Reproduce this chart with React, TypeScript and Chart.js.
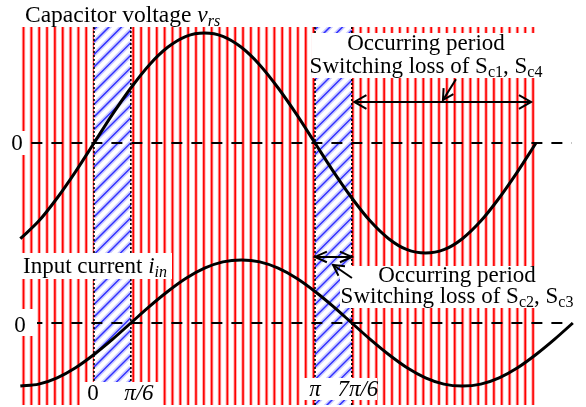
import React, { useEffect, useRef } from 'react';
import { Chart, registerables } from 'chart.js';

Chart.register(...registerables);

// ---- data (angles in degrees) ----
const angleDeg = [-60, -45, -30, -15, 0, 15, 30, 45, 60, 75, 90, 105, 120, 135, 150, 165, 180, 195, 210, 225, 240, 255, 270, 285, 300, 315, 330, 345, 360, 375, 390];
const voltageValues = [-0.87, -0.71, -0.5, -0.26, 0, 0.26, 0.5, 0.71, 0.87, 0.97, 1, 0.97, 0.87, 0.71, 0.5, 0.26, 0, -0.26, -0.5, -0.71, -0.87, -0.97, -1, -0.97, -0.87, -0.71, -0.5, -0.26, 0];
const currentValues = [-1, -0.97, -0.87, -0.71, -0.5, -0.26, 0, 0.26, 0.5, 0.71, 0.87, 0.97, 1, 0.97, 0.87, 0.71, 0.5, 0.26, 0, -0.26, -0.5, -0.71, -0.87, -0.97, -1, -0.97, -0.87, -0.71, -0.5, -0.26, 0];
const hatchStart = [0, 180];
const hatchEnd = [30, 210];
const tickLabels = ['0', 'π/6', 'π', '7π/6'];
const tickAngles = [0, 30, 180, 210];
const zeroLineFrom = -51;
const zeroLineTo = 389;
const lossArrow1 = [212, 356]; // Sc1, Sc4 occurring period (deg)
const lossArrow2 = [180, 210]; // Sc2, Sc3 occurring period (deg)

const FONT = '"Liberation Serif", "Times New Roman", serif';

type Seg = { t: string; it?: boolean; sub?: boolean };

function drawRich(ctx: CanvasRenderingContext2D, segs: Seg[], x: number, y: number, align: 'left' | 'center', size = 23) {
  const subSize = 16;
  const fontOf = (s: Seg) => `${s.it ? 'italic ' : ''}${s.sub ? subSize : size}px ${FONT}`;
  let total = 0;
  const widths = segs.map((s) => {
    ctx.font = fontOf(s);
    const w = ctx.measureText(s.t).width;
    total += w;
    return w;
  });
  let cx = align === 'center' ? x - total / 2 : x;
  ctx.fillStyle = '#000';
  ctx.textAlign = 'left';
  ctx.textBaseline = 'alphabetic';
  segs.forEach((s, i) => {
    ctx.font = fontOf(s);
    ctx.fillText(s.t, cx, y + (s.sub ? 4 : 0));
    cx += widths[i];
  });
}

function arrowHead(ctx: CanvasRenderingContext2D, tipX: number, tipY: number, fromX: number, fromY: number, len: number, ang: number) {
  const a = Math.atan2(fromY - tipY, fromX - tipX);
  ctx.beginPath();
  ctx.moveTo(tipX + len * Math.cos(a + ang), tipY + len * Math.sin(a + ang));
  ctx.lineTo(tipX, tipY);
  ctx.lineTo(tipX + len * Math.cos(a - ang), tipY + len * Math.sin(a - ang));
  ctx.stroke();
}

const decorPlugin = {
  id: 'decor',
  beforeDatasetsDraw(chart: any) {
    const ctx: CanvasRenderingContext2D = chart.ctx;
    const xs = chart.scales.x;
    const yv = chart.scales.yv;
    const yi = chart.scales.yi;
    const top = 27;
    const bottom = 405;
    ctx.save();
    // red stripes (pink halo + red core)
    const stripeX: number[] = [];
    for (let k = 0; k < 66; k++) stripeX.push(xs.getPixelForValue(-57.4 + k * 6.385));
    const strokeStripes = () => {
      ctx.beginPath();
      stripeX.forEach((px) => {
        ctx.moveTo(px, top);
        ctx.lineTo(px, bottom);
      });
      ctx.stroke();
    };
    ctx.strokeStyle = 'rgba(255,60,60,0.45)';
    ctx.lineWidth = 3.4;
    strokeStripes();
    ctx.strokeStyle = '#ff0000';
    ctx.lineWidth = 1.6;
    strokeStripes();
    // hatched bands
    hatchStart.forEach((s, i) => {
      const x0 = xs.getPixelForValue(s);
      const x1 = xs.getPixelForValue(hatchEnd[i]);
      ctx.save();
      ctx.beginPath();
      ctx.rect(x0, top, x1 - x0, bottom - top);
      ctx.clip();
      ctx.fillStyle = '#fff';
      ctx.fillRect(x0, top, x1 - x0, bottom - top);
      const w = x1 - x0;
      const drawLines = () => {
        ctx.beginPath();
        for (let c = top - 10; c < bottom + w + 10; c += 12.5) {
          ctx.moveTo(x0, c);
          ctx.lineTo(x1, c - w);
        }
        ctx.stroke();
      };
      ctx.strokeStyle = 'rgba(130,130,255,0.4)';
      ctx.lineWidth = 4.5;
      drawLines();
      ctx.strokeStyle = '#3030ff';
      ctx.lineWidth = 1.5;
      drawLines();
      ctx.restore();
      ctx.save();
      ctx.strokeStyle = '#000';
      ctx.lineWidth = 1.6;
      ctx.setLineDash([2, 2]);
      [x0, x1].forEach((px) => {
        ctx.beginPath();
        ctx.moveTo(px, top);
        ctx.lineTo(px, bottom);
        ctx.stroke();
      });
      ctx.restore();
    });
    // zero lines
    ctx.save();
    ctx.strokeStyle = '#000';
    ctx.lineWidth = 2;
    ctx.setLineDash([11, 9]);
    const zx0 = xs.getPixelForValue(zeroLineFrom);
    const zx1 = xs.getPixelForValue(zeroLineTo);
    [yv.getPixelForValue(0), yi.getPixelForValue(0)].forEach((py) => {
      ctx.beginPath();
      ctx.moveTo(zx0, py);
      ctx.lineTo(zx1, py);
      ctx.stroke();
    });
    ctx.restore();
    // white label boxes
    ctx.fillStyle = '#fff';
    const boxes = [
      [0, 131, 29, 24],
      [312, 33, 234, 45],
      [21, 253, 151, 26],
      [0, 309, 37, 27],
      [340, 266, 246, 42],
      [80, 382, 80, 25],
      [302, 378, 75, 22],
    ];
    boxes.forEach((b) => ctx.fillRect(b[0], b[1], b[2], b[3]));
    // texts
    drawRich(ctx, [{ t: 'Capacitor voltage ' }, { t: 'v', it: true }, { t: 'rs', it: true, sub: true }], 25, 22, 'left', 23.5);
    drawRich(ctx, [{ t: 'Occurring period' }], 426, 50, 'center');
    drawRich(ctx, [{ t: 'Switching loss of S' }, { t: 'c1', sub: true }, { t: ', S' }, { t: 'c4', sub: true }], 426, 73, 'center');
    drawRich(ctx, [{ t: 'Input current ' }, { t: 'i', it: true }, { t: 'in', it: true, sub: true }], 23, 273, 'left');
    drawRich(ctx, [{ t: 'Occurring period' }], 457, 282, 'center');
    drawRich(ctx, [{ t: 'Switching loss of S' }, { t: 'c2', sub: true }, { t: ', S' }, { t: 'c3', sub: true }], 457, 303, 'center');
    drawRich(ctx, [{ t: '0' }], 17, 150, 'center');
    drawRich(ctx, [{ t: '0' }], 20, 332, 'center');
    const tickOffsets = [-1, 8, 0, 6];
    const tickBase = [400, 400, 396, 396];
    tickLabels.forEach((lbl, i) => {
      const px = xs.getPixelForValue(tickAngles[i]) + tickOffsets[i];
      drawRich(ctx, [{ t: lbl, it: lbl !== '0' }], px, tickBase[i], 'center');
    });
    ctx.restore();
  },
  afterDatasetsDraw(chart: any) {
    const ctx: CanvasRenderingContext2D = chart.ctx;
    const xs = chart.scales.x;
    const yv = chart.scales.yv;
    ctx.save();
    ctx.strokeStyle = '#000';
    ctx.lineWidth = 2;
    ctx.setLineDash([]);
    // upper double arrow
    const ay1 = yv.getPixelForValue(0.373);
    const a1x0 = xs.getPixelForValue(lossArrow1[0]);
    const a1x1 = xs.getPixelForValue(lossArrow1[1]);
    ctx.beginPath();
    ctx.moveTo(a1x0, ay1);
    ctx.lineTo(a1x1, ay1);
    ctx.stroke();
    arrowHead(ctx, a1x0, ay1, a1x1, ay1, 14, 0.52);
    arrowHead(ctx, a1x1, ay1, a1x0, ay1, 14, 0.52);
    // upper pointer
    const p1tx = xs.getPixelForValue(284.2), p1ty = yv.getPixelForValue(0.39);
    const p1fx = xs.getPixelForValue(294.8), p1fy = yv.getPixelForValue(0.58);
    ctx.beginPath();
    ctx.moveTo(p1fx, p1fy);
    ctx.lineTo(p1tx, p1ty);
    ctx.stroke();
    arrowHead(ctx, p1tx, p1ty, p1fx, p1fy, 12, 0.5);
    // lower double arrow
    const ay2 = yv.getPixelForValue(-1.036);
    const a2x0 = xs.getPixelForValue(lossArrow2[0]);
    const a2x1 = xs.getPixelForValue(lossArrow2[1]);
    ctx.beginPath();
    ctx.moveTo(a2x0, ay2);
    ctx.lineTo(a2x1, ay2);
    ctx.stroke();
    arrowHead(ctx, a2x0, ay2, a2x1, ay2, 13, 0.42);
    arrowHead(ctx, a2x1, ay2, a2x0, ay2, 13, 0.42);
    // lower pointer
    const p2tx = xs.getPixelForValue(194.7), p2ty = yv.getPixelForValue(-1.109);
    const p2fx = xs.getPixelForValue(210.1), p2fy = yv.getPixelForValue(-1.227);
    ctx.beginPath();
    ctx.moveTo(p2fx, p2fy);
    ctx.lineTo(p2tx, p2ty);
    ctx.stroke();
    arrowHead(ctx, p2tx, p2ty, p2fx, p2fy, 12, 0.5);
    ctx.restore();
  },
};

export default function App() {
  const ref = useRef<HTMLCanvasElement>(null);
  useEffect(() => {
    if (!ref.current) return;
    const vData = voltageValues.map((v, i) => ({ x: angleDeg[i], y: v }));
    const iData = currentValues.map((v, i) => ({ x: angleDeg[i], y: v }));
    const chart = new Chart(ref.current, {
      type: 'line',
      data: {
        datasets: [
          { label: 'Capacitor voltage', data: vData, yAxisID: 'yv', borderColor: '#000', borderWidth: 3, pointRadius: 0, cubicInterpolationMode: 'monotone', fill: false },
          { label: 'Input current', data: iData, yAxisID: 'yi', borderColor: '#000', borderWidth: 3, pointRadius: 0, cubicInterpolationMode: 'monotone', fill: false },
        ],
      },
      options: {
        animation: false,
        responsive: false,
        layout: { padding: 0 },
        plugins: { legend: { display: false }, tooltip: { enabled: false } },
        scales: {
          x: { type: 'linear', min: -76.56, max: 400.72, display: false },
          yv: { type: 'linear', min: -2.4, max: 1.3, display: false },
          yi: { type: 'linear', min: -1.3333, max: 5.127, display: false },
        },
      },
      plugins: [decorPlugin],
    } as any);
    return () => chart.destroy();
  }, []);
  return (
    <div style={{ position: 'fixed', left: 0, top: 0, width: 586, height: 407, background: '#fff' }}>
      <canvas ref={ref} width={586} height={407} style={{ display: 'block' }} />
    </div>
  );
}
